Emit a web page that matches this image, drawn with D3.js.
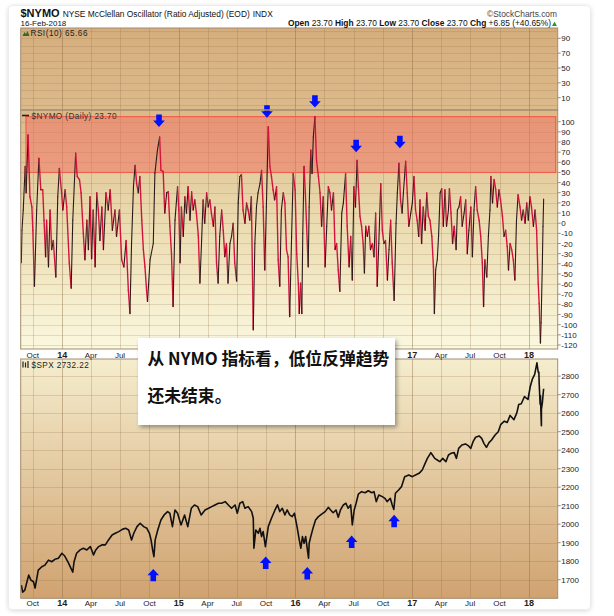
<!DOCTYPE html>
<html><head><meta charset="utf-8">
<script src="https://cdn.jsdelivr.net/npm/d3@7"></script>
<style>body{margin:0;background:#fff}svg{display:block}</style>
</head><body>
<svg id="c" width="614" height="616"></svg>
<script>
// ---------- DATA ----------
const nymoSeries = [
["2013-08-26",-39],["2013-08-28",-7],["2013-09-01",13],["2013-09-07",56],["2013-09-10",30],["2013-09-16",87],["2013-09-22",26],["2013-09-28",16],["2013-10-01",-7],["2013-10-06",-62],["2013-10-13",13],["2013-10-20",64],["2013-10-26",33],["2013-11-01",33],["2013-11-05",3],["2013-11-10",-33],["2013-11-13",3],["2013-11-19",-43],["2013-11-24",13],["2013-11-29",-26],["2013-12-04",-17],["2013-12-12",-53],["2013-12-18",26],["2013-12-23",54],["2013-12-30",30],
["2014-01-03",13],["2014-01-10",33],["2014-01-15",16],["2014-01-23",-39],["2014-01-29",-64],["2014-02-03",3],["2014-02-12",69],["2014-02-17",46],["2014-02-24",43],["2014-03-01",30],["2014-03-08",-10],["2014-03-13",-36],["2014-03-19",3],["2014-03-24",-26],["2014-03-29",26],["2014-04-03",-35],["2014-04-08",13],["2014-04-14",-43],["2014-04-19",30],["2014-04-24",13],["2014-04-29",-17],["2014-05-05",16],["2014-05-10",-26],["2014-05-18",30],["2014-05-25",13],["2014-05-31",33],["2014-06-07",-7],["2014-06-15",13],["2014-06-20",-13],["2014-06-29",13],["2014-07-06",-36],["2014-07-13",-43],["2014-07-20",-17],["2014-07-27",-66],["2014-08-01",-89],["2014-08-06",-20],["2014-08-12",36],["2014-08-17",57],["2014-08-22",39],["2014-08-27",30],["2014-09-01",46],["2014-09-07",3],["2014-09-12",-26],["2014-09-17",-43],["2014-09-22",-66],["2014-09-25",-77],["2014-10-03",-36],["2014-10-13",-20],["2014-10-18",49],["2014-10-26",72],["2014-11-02",85],["2014-11-06",52],["2014-11-13",51],["2014-11-18",10],["2014-11-24",30],["2014-11-29",31],["2014-12-04",-3],["2014-12-09",-30],["2014-12-14",-82],["2014-12-20",3],["2014-12-28",36],
["2015-01-01",13],["2015-01-05",-39],["2015-01-09",16],["2015-01-15",-13],["2015-01-20",26],["2015-01-25",10],["2015-01-30",36],["2015-02-05",3],["2015-02-10",31],["2015-02-15",13],["2015-02-20",23],["2015-02-25",10],["2015-03-03",-12],["2015-03-08",-59],["2015-03-13",-20],["2015-03-18",23],["2015-03-23",0],["2015-03-29",30],["2015-04-03",16],["2015-04-08",23],["2015-04-13",10],["2015-04-19",-3],["2015-04-24",16],["2015-04-29",-39],["2015-05-04",-59],["2015-05-09",-13],["2015-05-15",13],["2015-05-20",-7],["2015-05-25",-33],["2015-05-30",-20],["2015-06-04",-59],["2015-06-10",-20],["2015-06-15",-13],["2015-06-20",0],["2015-06-25",-39],["2015-07-01",-57],["2015-07-06",20],["2015-07-11",46],["2015-07-16",48],["2015-07-21",13],["2015-07-27",0],["2015-08-01",20],["2015-08-06",13],["2015-08-11",3],["2015-08-16",26],["2015-08-22",-105],["2015-08-27",-20],["2015-09-01",16],["2015-09-06",30],["2015-09-12",39],["2015-09-17",52],["2015-09-22",16],["2015-09-27",-46],["2015-10-02",16],["2015-10-08",95],["2015-10-13",56],["2015-10-18",46],["2015-10-23",33],["2015-10-28",23],["2015-11-03",36],["2015-11-08",-36],["2015-11-13",-62],["2015-11-18",13],["2015-11-24",30],["2015-11-29",20],["2015-12-04",-26],["2015-12-09",-33],["2015-12-14",-92],["2015-12-20",-13],["2015-12-25",49],["2015-12-31",33],
["2016-01-05",-30],["2016-01-10",-59],["2016-01-13",-89],["2016-01-17",-59],["2016-01-21",-89],["2016-01-24",-10],["2016-01-28",56],["2016-02-01",30],["2016-02-05",-3],["2016-02-10",-43],["2016-02-13",16],["2016-02-18",72],["2016-02-22",49],["2016-02-26",85],["2016-03-02",105],["2016-03-07",62],["2016-03-13",46],["2016-03-18",30],["2016-03-23",-3],["2016-03-28",26],["2016-04-03",-43],["2016-04-08",-3],["2016-04-13",36],["2016-04-18",30],["2016-04-23",13],["2016-04-29",30],["2016-05-04",-26],["2016-05-09",-20],["2016-05-14",-46],["2016-05-19",-67],["2016-05-25",10],["2016-05-30",20],["2016-06-06",49],["2016-06-11",-3],["2016-06-17",-43],["2016-06-22",-13],["2016-06-27",-56],["2016-07-02",36],["2016-07-07",16],["2016-07-12",62],["2016-07-16",36],["2016-07-21",7],["2016-07-26",-3],["2016-07-31",-20],["2016-08-04",-49],["2016-08-08",-3],["2016-08-13",-13],["2016-08-18",-3],["2016-08-23",-26],["2016-08-29",-20],["2016-09-03",-33],["2016-09-08",10],["2016-09-13",-62],["2016-09-18",-20],["2016-09-24",39],["2016-09-29",-7],["2016-10-04",-20],["2016-10-09",-17],["2016-10-15",-56],["2016-10-20",-26],["2016-10-25",3],["2016-10-30",-39],["2016-11-05",-76],["2016-11-11",0],["2016-11-15",30],["2016-11-20",59],["2016-11-25",23],["2016-11-30",10],["2016-12-04",30],["2016-12-11",61],["2016-12-16",30],["2016-12-21",-3],["2016-12-27",10],
["2017-01-01",20],["2017-01-06",46],["2017-01-11",13],["2017-01-16",3],["2017-01-21",-13],["2017-01-25",23],["2017-01-30",-20],["2017-02-04",16],["2017-02-10",-7],["2017-02-15",30],["2017-02-20",7],["2017-02-25",3],["2017-03-03",-13],["2017-03-08",-43],["2017-03-11",-89],["2017-03-15",-46],["2017-03-20",-36],["2017-03-24",-13],["2017-03-29",30],["2017-04-03",34],["2017-04-08",-3],["2017-04-13",33],["2017-04-18",-3],["2017-04-24",13],["2017-04-27",34],["2017-05-02",10],["2017-05-07",-20],["2017-05-12",-3],["2017-05-18",-26],["2017-05-22",13],["2017-05-27",16],["2017-06-01",26],["2017-06-06",-3],["2017-06-12",10],["2017-06-17",23],["2017-06-22",-30],["2017-06-27",-7],["2017-07-03",16],["2017-07-08",-33],["2017-07-13",13],["2017-07-18",36],["2017-07-23",13],["2017-07-29",3],["2017-08-03",-13],["2017-08-08",-39],["2017-08-12",-82],["2017-08-16",-36],["2017-08-22",-53],["2017-08-27",-13],["2017-09-01",13],["2017-09-04",46],["2017-09-09",20],["2017-09-14",43],["2017-09-19",33],["2017-09-24",16],["2017-09-29",33],["2017-10-04",23],["2017-10-10",7],["2017-10-15",-13],["2017-10-20",-7],["2017-10-25",-23],["2017-10-29",-46],["2017-11-03",-20],["2017-11-08",-26],["2017-11-13",-36],["2017-11-18",-56],["2017-11-23",3],["2017-11-28",28],["2017-12-04",16],["2017-12-09",3],["2017-12-14",13],["2017-12-20",0],["2017-12-25",20],["2017-12-30",3],
["2018-01-04",26],["2018-01-09",16],["2018-01-15",-3],["2018-01-20",13],["2018-01-25",-7],["2018-01-30",-59],["2018-02-02",-79],["2018-02-06",-118],["2018-02-08",-98],["2018-02-12",-39],["2018-02-14",-3],["2018-02-16",23.7]
];

const spxSeries = [
["2013-08-26",1671],["2013-08-30",1633],["2013-09-06",1644],["2013-09-18",1725],["2013-09-25",1698],["2013-10-03",1689],["2013-10-08",1655],["2013-10-18",1752],["2013-10-29",1770],["2013-11-08",1779],["2013-11-19",1806],["2013-11-29",1797],["2013-12-09",1810],["2013-12-20",1816],["2013-12-31",1843],
["2014-01-09",1828],["2014-01-20",1792],["2014-02-03",1741],["2014-02-07",1797],["2014-02-15",1843],["2014-02-26",1861],["2014-03-08",1870],["2014-03-19",1861],["2014-03-30",1879],["2014-04-09",1834],["2014-04-16",1861],["2014-04-25",1879],["2014-05-05",1888],["2014-05-16",1888],["2014-05-26",1915],["2014-06-06",1942],["2014-06-16",1951],["2014-06-27",1960],["2014-07-08",1972],["2014-07-18",1978],["2014-07-28",1969],["2014-08-06",1915],["2014-08-13",1951],["2014-08-23",1987],["2014-09-02",2005],["2014-09-13",1987],["2014-09-23",1978],["2014-10-01",1951],["2014-10-06",1915],["2014-10-11",1861],["2014-10-15",1825],["2014-10-19",1915],["2014-10-27",1969],["2014-11-06",2023],["2014-11-16",2050],["2014-11-27",2068],["2014-12-04",2059],["2014-12-12",1987],["2014-12-20",2077],["2014-12-28",2059],
["2015-01-08",1996],["2015-01-19",2050],["2015-01-29",1987],["2015-02-09",2086],["2015-02-19",2104],["2015-03-01",2095],["2015-03-12",2050],["2015-03-24",2077],["2015-04-04",2086],["2015-04-14",2095],["2015-04-24",2104],["2015-05-05",2113],["2015-05-15",2113],["2015-05-26",2122],["2015-06-05",2104],["2015-06-15",2086],["2015-06-26",2104],["2015-07-03",2059],["2015-07-11",2113],["2015-07-20",2122],["2015-07-27",2086],["2015-08-06",2095],["2015-08-17",2068],["2015-08-22",2032],["2015-08-24",1870],["2015-08-30",1969],["2015-09-07",1951],["2015-09-12",1978],["2015-09-17",1933],["2015-09-22",1960],["2015-09-29",1879],["2015-10-08",1987],["2015-10-18",2032],["2015-10-29",2077],["2015-11-06",2104],["2015-11-13",2068],["2015-11-21",2086],["2015-11-29",2050],["2015-12-06",2077],["2015-12-14",2050],["2015-12-22",2041],["2015-12-29",2059],
["2016-01-06",1987],["2016-01-13",1915],["2016-01-18",1870],["2016-01-23",1933],["2016-01-28",1897],["2016-02-02",1933],["2016-02-11",1816],["2016-02-13",1897],["2016-02-18",1933],["2016-02-25",1978],["2016-03-04",2023],["2016-03-13",2041],["2016-03-20",2050],["2016-04-03",2068],["2016-04-13",2091],["2016-04-20",2077],["2016-04-28",2062],["2016-05-07",2077],["2016-05-14",2037],["2016-05-21",2077],["2016-05-30",2104],["2016-06-07",2113],["2016-06-14",2086],["2016-06-22",2104],["2016-06-27",1996],["2016-07-03",2077],["2016-07-09",2113],["2016-07-16",2163],["2016-07-26",2176],["2016-08-06",2170],["2016-08-16",2181],["2016-08-27",2170],["2016-09-03",2176],["2016-09-10",2122],["2016-09-18",2158],["2016-09-29",2149],["2016-10-07",2140],["2016-10-14",2122],["2016-10-24",2140],["2016-10-30",2104],["2016-11-04",2080],["2016-11-09",2167],["2016-11-19",2185],["2016-11-28",2203],["2016-12-08",2257],["2016-12-21",2266],
["2017-01-01",2257],["2017-01-11",2266],["2017-01-22",2275],["2017-02-01",2293],["2017-02-10",2329],["2017-02-17",2356],["2017-02-28",2387],["2017-03-05",2374],["2017-03-12",2356],["2017-03-20",2347],["2017-03-28",2338],["2017-04-06",2356],["2017-04-16",2338],["2017-04-24",2374],["2017-05-02",2383],["2017-05-12",2387],["2017-05-19",2356],["2017-05-26",2410],["2017-06-05",2428],["2017-06-16",2434],["2017-06-26",2423],["2017-07-03",2410],["2017-07-10",2446],["2017-07-18",2470],["2017-07-29",2477],["2017-08-06",2464],["2017-08-13",2437],["2017-08-21",2415],["2017-08-29",2441],["2017-09-06",2455],["2017-09-17",2482],["2017-09-27",2500],["2017-10-05",2540],["2017-10-16",2557],["2017-10-25",2550],["2017-11-03",2588],["2017-11-15",2565],["2017-11-24",2602],["2017-11-30",2647],["2017-12-08",2651],["2017-12-18",2690],["2017-12-29",2674],
["2018-01-05",2743],["2018-01-12",2786],["2018-01-19",2810],["2018-01-26",2872],["2018-01-30",2822],["2018-02-01",2822],["2018-02-02",2762],["2018-02-05",2649],["2018-02-06",2695],["2018-02-08",2581],["2018-02-09",2532],["2018-02-09",2620],["2018-02-12",2656],["2018-02-14",2698],["2018-02-16",2732]
];

const nymoTicks = d3.range(-120, 101, 10);
const spxTicks = d3.range(1700, 2801, 100);
const rsiTicks = [10, 30, 50, 70, 90];
const rsiGrid = d3.range(0, 101, 10);
const xTicks = [["2013-10-01","Oct"],["2014-01-01","14"],["2014-04-01","Apr"],["2014-07-01","Jul"],["2014-10-01","Oct"],["2015-01-01","15"],["2015-04-01","Apr"],["2015-07-01","Jul"],["2015-10-01","Oct"],["2016-01-01","16"],["2016-04-01","Apr"],["2016-07-01","Jul"],["2016-10-01","Oct"],["2017-01-01","17"],["2017-04-01","Apr"],["2017-07-01","Jul"],["2017-10-01","Oct"],["2018-01-01","18"]];
const nymoArrows = [["2014-10-31",101],["2015-10-04",110],["2016-03-02",120],["2016-07-09",76],["2016-11-23",80]];
const spxArrows = [["2014-10-13",1725],["2015-09-30",1792],["2016-02-07",1735],["2016-06-25",1905],["2016-11-05",2017]];
const overboughtBand = [50, 105];

// ---------- CHART ----------
const parse = d3.timeParse("%Y-%m-%d");
const svg = d3.select("#c");
const defs = svg.append("defs");
const FONT = "'Liberation Sans', Arial, sans-serif";
const L = 20.7, R = 557.7;
const x = d3.scaleTime().domain([parse("2013-08-24"), parse("2018-04-01")]).range([L, R]);

const P = {
  rsi: {top: 28, bot: 110},
  nymo: {top: 110, bot: 349},
  spx: {top: 359, bot: 598.3}
};
const yR = d3.scaleLinear().domain([10, 90]).range([97.7, 38.3]);
const yN = d3.scaleLinear().domain([-120, 100]).range([345, 121.7]);
const yS = d3.scaleLinear().domain([1700, 2800]).range([579.7, 376.2]);
const BOX = {x: 138, y: 338, w: 257, h: 87};

function grad(id, stops) {
  const g = defs.append("linearGradient").attr("id", id).attr("x1", 0).attr("y1", 0).attr("x2", 0).attr("y2", 1);
  stops.forEach(([o, c]) => g.append("stop").attr("offset", o).attr("stop-color", c));
}
grad("gR", [[0, "#d6ae7e"], [1, "#dcba8b"]]);
grad("gN", [[0, "#dbb989"], [0.45, "#eadaae"], [1, "#fbf8df"]]);
grad("gS", [[0, "#f5edcd"], [1, "#d0a270"]]);
const f1 = defs.append("filter").attr("id", "sh").attr("x", "-10%").attr("y", "-10%").attr("width", "130%").attr("height", "140%");
f1.append("feDropShadow").attr("dx", 2).attr("dy", 2.5).attr("stdDeviation", 2).attr("flood-color", "#000").attr("flood-opacity", 0.35);
const f2 = defs.append("filter").attr("id", "shc").attr("x", "-5%").attr("y", "-5%").attr("width", "110%").attr("height", "110%");
f2.append("feDropShadow").attr("dx", 0).attr("dy", 1).attr("stdDeviation", 2).attr("flood-color", "#000").attr("flood-opacity", 0.15);

// card
svg.append("rect").attr("x", 8.5).attr("y", 5.5).attr("width", 582).attr("height", 604).attr("rx", 4)
  .attr("fill", "#fff").attr("stroke", "#ececec").attr("filter", "url(#shc)");

Object.entries(P).forEach(([k, p]) => {
  defs.append("clipPath").attr("id", "clip-" + k).append("rect")
    .attr("x", L).attr("y", p.top).attr("width", R - L).attr("height", p.bot - p.top);
});

// backgrounds
svg.append("rect").attr("x", L).attr("y", P.rsi.top).attr("width", R - L).attr("height", P.rsi.bot - P.rsi.top).attr("fill", "url(#gR)");
svg.append("rect").attr("x", L).attr("y", P.nymo.top).attr("width", R - L).attr("height", P.nymo.bot - P.nymo.top).attr("fill", "url(#gN)");
svg.append("rect").attr("x", L).attr("y", P.spx.top).attr("width", R - L).attr("height", P.spx.bot - P.spx.top).attr("fill", "url(#gS)");

const gridC = "#8a6a40";
function hGrid(scale, vals, panel, op) {
  svg.append("g").attr("clip-path", "url(#clip-" + panel + ")").selectAll("line").data(vals).join("line")
    .attr("x1", L).attr("x2", R).attr("y1", d => Math.round(scale(d)) + 0.5).attr("y2", d => Math.round(scale(d)) + 0.5)
    .attr("stroke", gridC).attr("stroke-opacity", op);
}
function vGrid(panel) {
  const p = P[panel];
  svg.append("g").selectAll("line").data(xTicks).join("line")
    .attr("x1", d => Math.round(x(parse(d[0]))) + 0.5).attr("x2", d => Math.round(x(parse(d[0]))) + 0.5)
    .attr("y1", p.top).attr("y2", p.bot)
    .attr("stroke", gridC).attr("stroke-opacity", d => /^\d+$/.test(d[1]) ? 0.42 : 0.25);
}
hGrid(yR, rsiGrid, "rsi", 0.2);
hGrid(yN, nymoTicks, "nymo", 0.2);
hGrid(yS, spxTicks, "spx", 0.22);
vGrid("rsi"); vGrid("nymo"); vGrid("spx");

// overbought band
svg.append("rect").attr("x", 26).attr("width", 555.7 - 26)
  .attr("y", yN(overboughtBand[1])).attr("height", yN(overboughtBand[0]) - yN(overboughtBand[1]))
  .attr("fill", "rgb(241,109,97)").attr("fill-opacity", 0.5)
  .attr("stroke", "#f0604c").attr("stroke-width", 1.2);

// NYMO line, black for rises and red for falls
const nymo = nymoSeries.map(d => ({date: parse(d[0]), v: d[1]}));
const segs = d3.pairs(nymo);
svg.append("g").attr("clip-path", "url(#clip-nymo)").selectAll("line").data(segs).join("line")
  .attr("x1", d => x(d[0].date)).attr("y1", d => yN(d[0].v))
  .attr("x2", d => x(d[1].date)).attr("y2", d => yN(d[1].v))
  .attr("stroke", d => d[1].v >= d[0].v ? "#2a1a1a" : "#d2143c")
  .attr("stroke-width", d => d[1].v >= d[0].v ? 1.1 : 1.4)
  .attr("stroke-linecap", "round");

// SPX line
const spx = spxSeries.map(d => ({date: parse(d[0]), v: d[1]}));
svg.append("path").datum(spx).attr("clip-path", "url(#clip-spx)")
  .attr("d", d3.line().x(d => x(d.date)).y(d => yS(d.v)))
  .attr("fill", "none").attr("stroke", "#111").attr("stroke-width", 1.6).attr("stroke-linejoin", "round");

// arrows
function downArrow(cx, cy) {
  return `M${cx-2.8},${cy-6.2}h5.6v6h3l-5.8,6.4l-5.8,-6.4h3z`;
}
function upArrow(cx, cy) {
  return `M${cx-2.8},${cy+6.2}h5.6v-6h3l-5.8,-6.4l-5.8,6.4h3z`;
}
svg.append("g").selectAll("path").data(nymoArrows).join("path")
  .attr("d", d => downArrow(x(parse(d[0])), yN(d[1]))).attr("fill", "#0010ff");
svg.append("g").selectAll("path").data(spxArrows).join("path")
  .attr("d", d => upArrow(x(parse(d[0])), yS(d[1]))).attr("fill", "#0010ff");

// borders
const bc = "#a48c70";
Object.values(P).forEach(p => {
  svg.append("rect").attr("x", L).attr("y", p.top).attr("width", R - L).attr("height", p.bot - p.top)
    .attr("fill", "none").attr("stroke", bc).attr("stroke-width", 1);
});

// right axes
function rightAxis(scale, vals, fmt) {
  const g = svg.append("g");
  g.selectAll("line").data(vals).join("line")
    .attr("x1", R).attr("x2", R + 3).attr("y1", d => scale(d)).attr("y2", d => scale(d)).attr("stroke", bc);
  g.selectAll("text").data(vals).join("text")
    .attr("x", R + 3.5).attr("y", d => scale(d) + 3).text(fmt)
    .attr("font-family", FONT).attr("font-size", 8).attr("fill", "#222");
}
rightAxis(yR, rsiTicks, d => d);
rightAxis(yN, nymoTicks, d => d);
rightAxis(yS, spxTicks, d => d);

// x-axis labels (upper row: the ones under the note box are hidden in the reference)
function xLabels(yy, hideUnderBox) {
  const data = xTicks.filter(d => {
    if (!hideUnderBox) return true;
    const px = x(parse(d[0]));
    return px < BOX.x - 6 || px > BOX.x + BOX.w + 6;
  });
  svg.append("g").selectAll("text").data(data).join("text")
    .attr("x", d => x(parse(d[0]))).attr("y", yy).attr("text-anchor", "middle")
    .attr("font-family", FONT).attr("font-size", d => /^\d+$/.test(d[1]) ? 9 : 8)
    .attr("font-weight", d => /^\d+$/.test(d[1]) ? "bold" : "normal")
    .attr("fill", "#222").text(d => d[1]);
}
xLabels(357.8, true);
xLabels(606.3, false);

// header
const h1 = svg.append("text").attr("x", 20.5).attr("y", 17).attr("font-family", FONT).attr("fill", "#111");
h1.append("tspan").attr("font-weight", "bold").attr("font-size", 11).text("$NYMO");
h1.append("tspan").attr("font-size", 8.4).attr("dx", 3).text("NYSE McClellan Oscillator (Ratio Adjusted) (EOD)");
h1.append("tspan").attr("font-size", 8.4).attr("dx", 3).text("INDX");
svg.append("text").attr("x", 557).attr("y", 16.5).attr("text-anchor", "end").attr("font-family", FONT)
  .attr("font-size", 8.4).attr("fill", "#444").text("©StockCharts.com");
svg.append("text").attr("x", 20.5).attr("y", 26.3).attr("font-family", FONT).attr("font-size", 8).attr("fill", "#111").text("16-Feb-2018");
const h2 = svg.append("text").attr("x", 551).attr("y", 26.3).attr("text-anchor", "end").attr("font-family", FONT).attr("font-size", 8.4).attr("fill", "#111");
[["Open", " 23.70  "], ["High", " 23.70  "], ["Low", " 23.70  "], ["Close", " 23.70  "], ["Chg", " +6.85 (+40.65%)"]].forEach(([a, b]) => {
  h2.append("tspan").attr("font-weight", "bold").text(a);
  h2.append("tspan").text(b);
});
svg.append("path").attr("d", "M552,26 l2.5,-4.5 l2.5,4.5z").attr("fill", "#2a9a2a");

// panel labels
svg.append("path").attr("d", "M22.5,36 l2,-4 l1.5,2 l1.5,-3 l2,5z").attr("fill", "#2f6b2f");
svg.append("text").attr("x", 30.5).attr("y", 36).attr("font-family", FONT).attr("font-size", 8.2)
  .attr("letter-spacing", 0.5).attr("fill", "#222").text("RSI(10) 65.66");
svg.append("line").attr("x1", 22).attr("x2", 29).attr("y1", 115.5).attr("y2", 115.5).attr("stroke", "#222").attr("stroke-width", 1.6);
svg.append("text").attr("x", 31.5).attr("y", 118.5).attr("font-family", FONT).attr("font-size", 8.2)
  .attr("letter-spacing", 0.4).attr("fill", "#333").text("$NYMO (Daily) 23.70");
svg.append("path").attr("d", "M23,361.5v6M25.5,362.5v5M28,361v7").attr("stroke", "#222").attr("stroke-width", 1.2);
svg.append("text").attr("x", 31.5).attr("y", 367.5).attr("font-family", FONT).attr("font-size", 8.2)
  .attr("letter-spacing", 0.4).attr("fill", "#222").text("$SPX 2732.22");

// annotation box
svg.append("rect").attr("x", BOX.x).attr("y", BOX.y).attr("width", BOX.w).attr("height", BOX.h)
  .attr("fill", "#fff").attr("filter", "url(#sh)");
const CJK = "'Noto Sans CJK SC', 'Noto Sans', sans-serif";
svg.append("text").attr("x", 147.5).attr("y", 364.5).attr("font-family", CJK).attr("font-weight", "bold")
  .attr("font-size", 16.8).attr("fill", "#111").text("从 NYMO 指标看，低位反弹趋势");
svg.append("text").attr("x", 147.5).attr("y", 401.5).attr("font-family", CJK).attr("font-weight", "bold")
  .attr("font-size", 16.8).attr("fill", "#111").text("还未结束。");
</script>
</body></html>
